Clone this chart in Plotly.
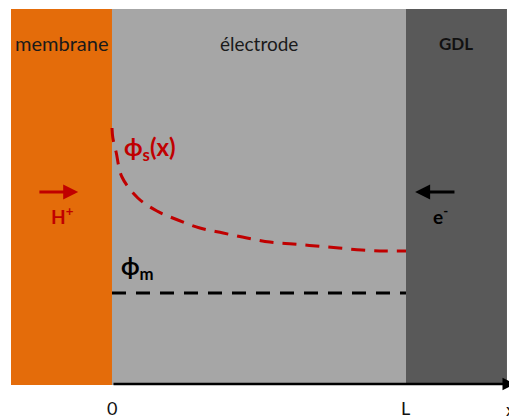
import plotly.graph_objects as go

# Regions (x in units of electrode thickness L)
regions = ["membrane", "électrode", "GDL"]
region_x0 = [-0.3435, 0.0, 1.0]
region_x1 = [0.0, 1.0, 1.3435]
region_colors = ["#E46C0A", "#A6A6A6", "#595959"]

# Solid-phase potential phi_s(x) (arbitrary units)
phi_s_x = [0.0, 0.003, 0.014, 0.034, 0.088, 0.153, 0.224, 0.299, 0.378,
           0.459, 0.537, 0.616, 0.694, 0.772, 0.850, 0.929, 1.0]
phi_s_y = [257, 247, 233, 208, 187, 174, 165, 157, 152,
           147, 143, 141, 139, 137, 135, 134, 134]

# Membrane potential phi_m (constant)
phi_m_x = [0.0, 1.0]
phi_m_y = [92, 92]

top_y = 376
tick_labels = ["0", "L"]
tick_pos = [0.0, 1.0]
axis_label = "x"

FONT = "Lato"
RED = "#C00000"

fig = go.Figure()

shapes = []
for x0, x1, c in zip(region_x0, region_x1, region_colors):
    shapes.append(dict(type="rect", xref="x", yref="y", x0=x0, x1=x1, y0=0, y1=top_y,
                       fillcolor=c, line=dict(width=0), layer="below"))

fig.add_trace(go.Scatter(x=phi_s_x, y=phi_s_y, mode="lines",
                         line=dict(color=RED, width=3, dash="14px,9px", shape="spline"),
                         hoverinfo="skip", showlegend=False))
fig.add_trace(go.Scatter(x=phi_m_x, y=phi_m_y, mode="lines",
                         line=dict(color="black", width=3, dash="14px,10px"),
                         hoverinfo="skip", showlegend=False))

ann = []
# region labels
label_sizes = [20, 19, 17]
label_bold = [False, False, True]
label_col = ["#1a1a1a", "#1a1a1a", "#111111"]
for name, x0, x1, s, b, c in zip(regions, region_x0, region_x1, label_sizes, label_bold, label_col):
    ann.append(dict(x=(x0 + x1) / 2, y=342, text=f"<b>{name}</b>" if b else name,
                    showarrow=False, font=dict(family=FONT, size=s, color=c)))

# phi labels
ann.append(dict(x=0.035, y=237, xanchor="left", text="<b>ϕ<sub>s</sub>(x)</b>", showarrow=False,
                font=dict(family=FONT, size=24, color=RED)))
ann.append(dict(x=0.025, y=118, xanchor="left", text="<b>ϕ<sub>m</sub></b>", showarrow=False,
                font=dict(family=FONT, size=24, color="black")))

# H+ and e- labels with arrows
ann.append(dict(x=-0.17, y=170, text="<b>H<sup>+</sup></b>", showarrow=False,
                font=dict(family=FONT, size=19, color=RED)))
ann.append(dict(x=-0.115, y=193, ax=-0.252, ay=193, axref="x", ayref="y", text="",
                showarrow=True, arrowhead=2, arrowsize=1, arrowwidth=3, arrowcolor=RED))
ann.append(dict(x=1.116, y=170, text="<b>e<sup>-</sup></b>", showarrow=False,
                font=dict(family=FONT, size=19, color="black")))
ann.append(dict(x=1.031, y=193, ax=1.17, ay=193, axref="x", ayref="y", text="",
                showarrow=True, arrowhead=2, arrowsize=1, arrowwidth=3, arrowcolor="black"))

# x axis arrow
ann.append(dict(x=1.3707, y=1, ax=0.0, ay=1, axref="x", ayref="y", text="",
                showarrow=True, arrowhead=2, arrowsize=1, arrowwidth=2.5, arrowcolor="black"))
for t, p in zip(tick_labels, tick_pos):
    ann.append(dict(x=p, y=-23, text=t, showarrow=False,
                    font=dict(family=FONT, size=18, color="#111111")))
# axis name at the right edge, as in the reference
ann.append(dict(x=1.0, xref="paper", y=-24, yref="y", xanchor="right", text=axis_label,
                showarrow=False, font=dict(family=FONT, size=18, color="#111111")))

# The page places the figure 8 px from the window's top-left corner,
# so the figure is sized to the remaining 509x412 area.
fig.update_layout(
    width=509, height=412,
    margin=dict(l=0, r=0, t=0, b=0),
    paper_bgcolor="white", plot_bgcolor="white",
    shapes=shapes, annotations=ann,
    xaxis=dict(range=[-0.3537, 1.3776], visible=False, fixedrange=True),
    yaxis=dict(range=[-35, 377], visible=False, fixedrange=True),
    showlegend=False,
)

fig.write_html("out.html")
